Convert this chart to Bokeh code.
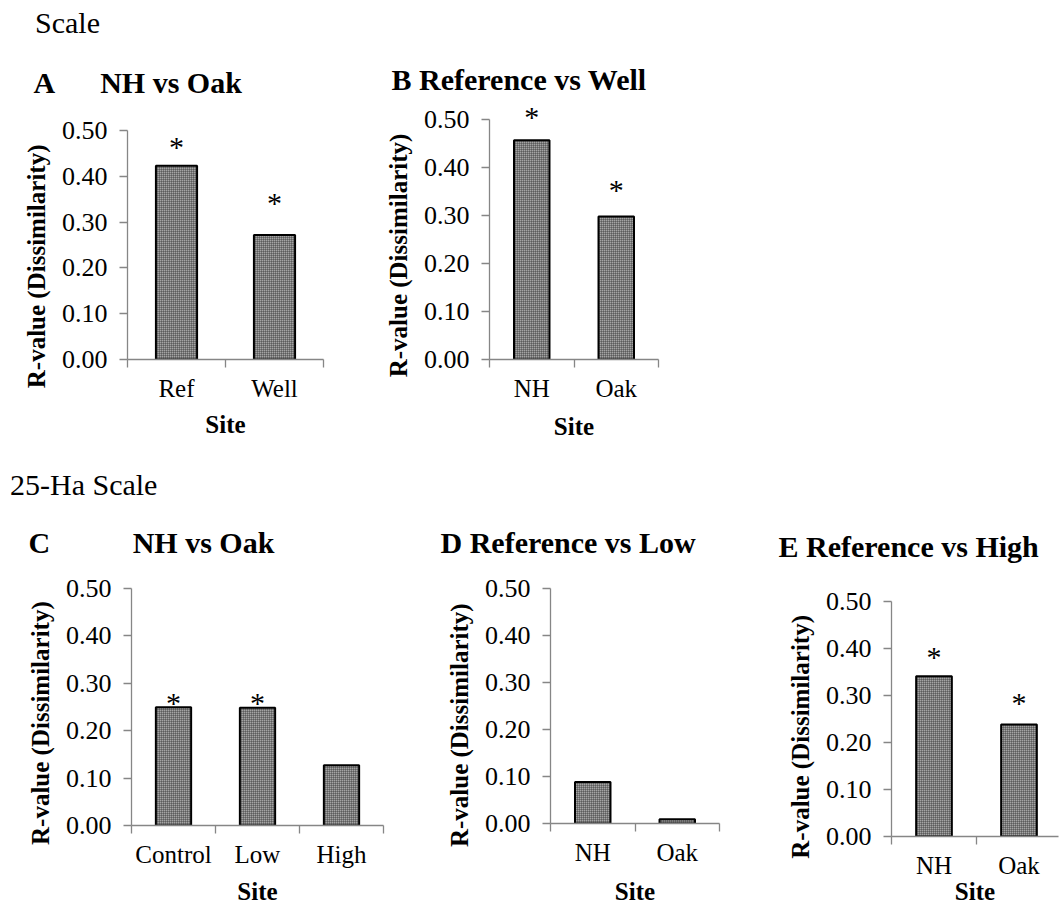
from bokeh.plotting import figure
from bokeh.models import Range1d, FixedTicker, NumeralTickFormatter, ColumnDataSource, Div
from bokeh.layouts import column, row
from bokeh.core.properties import value
from bokeh.embed import file_html
from bokeh.resources import INLINE

FONT = "Liberation Serif"
AXIS_GRAY = "#868686"
NBSP = "\u00a0"

# ---------------- data ----------------
a_sites = ["Ref", "Well"]
a_r = [0.423, 0.272]
a_sig = [True, True]

b_sites = ["NH", "Oak"]
b_r = [0.457, 0.298]
b_sig = [True, True]

c_sites = ["Control", "Low", "High"]
c_r = [0.249, 0.248, 0.127]
c_sig = [True, True, False]

d_sites = ["NH", "Oak"]
d_r = [0.088, 0.009]
d_sig = [False, False]

e_sites = ["NH", "Oak"]
e_r = [0.340, 0.238]
e_sig = [True, True]

y_ticks = [0.0, 0.1, 0.2, 0.3, 0.4, 0.5]
y_label = "R-value (Dissimilarity)"
x_label = "Site"

# font metrics (Liberation Serif) used for layout
TITLE_PX = 30
DESC_T = 0.216 * TITLE_PX
NBSP_T = 0.25 * TITLE_PX
NBSP_L = 0.25 * 25
LETTER_W = {"A": 0.722, "B": 0.667, "C": 0.722, "D": 0.722, "E": 0.667}


def make_panel(sites, vals, sig, cfg):
    fx, fy, fw, fh = cfg["fig"]
    l, r = cfg["frame_x"]
    y0, y5 = cfg["y0"], cfg["y5"]
    standoff = 12
    top = int(round(cfg["title_y"] + DESC_T + standoff / 2))
    ymax = 0.5 * (y0 - top) / (y0 - y5)
    n = len(sites)
    x_end = cfg.get("x_end", n)

    # title: letter + title text, separated by non-breaking spaces
    lw = LETTER_W[cfg["letter"]] * TITLE_PX
    nsp = max(1, int(round((cfg["title_x"] - cfg["letter_x"] - lw) / NBSP_T)))
    title_text = cfg["letter"] + NBSP * nsp + cfg["title"]

    p = figure(width=fw, height=fh, x_range=Range1d(0, x_end), y_range=Range1d(0, ymax),
               output_backend="svg", toolbar_location=None, title=title_text,
               min_border_left=l - fx, min_border_right=fx + fw - r,
               min_border_top=top - fy, min_border_bottom=fy + fh - y0)
    p.frame_align = False
    p.outline_line_color = None
    p.xgrid.visible = False
    p.ygrid.visible = False
    p.background_fill_color = "white"
    p.border_fill_color = "white"

    p.title.align = "left"
    p.title.vertical_align = "bottom"
    p.title.offset = cfg["letter_x"] - l
    p.title.standoff = standoff
    p.title.text_font = FONT
    p.title.text_font_size = f"{TITLE_PX}px"
    p.title.text_font_style = "bold"
    p.title.text_color = "black"

    centers = [i + 0.5 for i in range(n)]
    src = ColumnDataSource(dict(x=centers, top=vals))
    p.vbar(x="x", top="top", bottom=0, width=0.42, source=src,
           fill_color="#a4a4a4", line_color="black", line_width=2,
           hatch_pattern="cross", hatch_scale=2, hatch_weight=0.7, hatch_color="#262626")

    sx = [c for c, s in zip(centers, sig) if s]
    sy = [v for v, s in zip(vals, sig) if s]
    so = [-(g - 2) for g, s in zip(cfg["gaps"], sig) if s]
    if sx:
        ssrc = ColumnDataSource(dict(x=sx, y=sy, off=so, t=["*"] * len(sx)))
        p.text(x="x", y="y", text="t", y_offset="off", source=ssrc,
               text_font=value(FONT), text_font_size=value("30px"),
               text_align="center", text_baseline="middle", text_color="black")

    # y axis
    frame_center = (top + y0) / 2
    shift = cfg["ylab_y"] - frame_center
    pad = max(0, int(round(2 * shift / NBSP_L)))
    yax = p.yaxis[0]
    yax.ticker = FixedTicker(ticks=y_ticks)
    yax.bounds = (0, 0.5)
    yax.formatter = NumeralTickFormatter(format="0.00")
    yax.axis_line_color = AXIS_GRAY
    yax.axis_line_width = 1.3
    yax.major_tick_line_color = AXIS_GRAY
    yax.major_tick_line_width = 1.3
    yax.major_tick_out = 8
    yax.major_tick_in = 0
    yax.minor_tick_line_color = None
    yax.major_label_standoff = 12
    yax.major_label_text_font = FONT
    yax.major_label_text_font_size = "26px"
    yax.major_label_text_color = "black"
    yax.axis_label = y_label + NBSP * pad
    yax.axis_label_standoff = 9
    yax.axis_label_text_font = FONT
    yax.axis_label_text_font_size = "25px"
    yax.axis_label_text_font_style = "bold"
    yax.axis_label_text_color = "black"

    # x axis: labels at category centres, ticks at category boundaries
    xax = p.xaxis[0]
    xax.ticker = FixedTicker(ticks=centers, minor_ticks=list(range(n + 1)))
    xax.major_label_overrides = {c: s for c, s in zip(centers, sites)}
    xax.axis_line_color = AXIS_GRAY
    xax.axis_line_width = 1.3
    xax.major_tick_out = 0
    xax.major_tick_in = 0
    xax.major_tick_line_color = None
    xax.minor_tick_out = 8
    xax.minor_tick_in = 0
    xax.minor_tick_line_color = AXIS_GRAY
    xax.minor_tick_line_width = 1.3
    xax.major_label_standoff = 7
    xax.major_label_text_font = FONT
    xax.major_label_text_font_size = "25px"
    xax.major_label_text_color = "black"
    xax.axis_label = x_label
    xax.axis_label_standoff = cfg["site_standoff"]
    xax.axis_label_text_font = FONT
    xax.axis_label_text_font_size = "25px"
    xax.axis_label_text_font_style = "bold"
    xax.axis_label_text_color = "black"
    return p


ROW1 = (46, 420)
ROW2 = (506, 401)

cfgA = dict(fig=(0, ROW1[0], 372, ROW1[1]), frame_x=(127, 323), y0=359, y5=130,
            letter="A", letter_x=33, title="NH vs Oak", title_x=98, title_y=92,
            ylab_y=266, site_standoff=6, gaps=[21, 34])
cfgB = dict(fig=(372, ROW1[0], 328, ROW1[1]), frame_x=(489, 658), y0=359, y5=119,
            letter="B", letter_x=391, title="Reference vs Well", title_x=417, title_y=89,
            ylab_y=256, site_standoff=8, gaps=[26, 29])
cfgC = dict(fig=(0, ROW2[0], 410, ROW2[1]), frame_x=(131, 383), y0=828, y5=588,
            letter="C", letter_x=28, title="NH vs Oak", title_x=130, title_y=552,
            ylab_y=724, site_standoff=7, gaps=[7, 7, 0])
cfgD = dict(fig=(410, ROW2[0], 330, ROW2[1]), frame_x=(550, 719), y0=827, y5=588,
            letter="D", letter_x=440, title="Reference vs Low", title_x=468, title_y=552,
            ylab_y=728, site_standoff=9, gaps=[0, 0])
cfgE = dict(fig=(740, ROW2[0], 319, ROW2[1]), frame_x=(891, 1058), y0=840, y5=601,
            letter="E", letter_x=778, title="Reference vs High", title_x=805, title_y=556,
            ylab_y=738, site_standoff=-4, gaps=[22, 24], x_end=167 / 85)

pA = make_panel(a_sites, a_r, a_sig, cfgA)
pB = make_panel(b_sites, b_r, b_sig, cfgB)
pC = make_panel(c_sites, c_r, c_sig, cfgC)
pD = make_panel(d_sites, d_r, d_sig, cfgD)
pE = make_panel(e_sites, e_r, e_sig, cfgE)

head1 = Div(text="Scale", width=500, height=ROW1[0], margin=0,
            styles={"font-family": FONT, "font-size": "30px", "line-height": "46px",
                    "padding-left": "35px", "color": "black"})
head2 = Div(text="25-Ha Scale", width=500, height=ROW2[0] - ROW1[0] - ROW1[1], margin=0,
            styles={"font-family": FONT, "font-size": "30px", "line-height": "38px",
                    "padding-left": "10px", "color": "black"})

layout = column(head1, row(pA, pB), head2, row(pC, pD, pE))
open("out.html", "w").write(file_html(layout, INLINE))
